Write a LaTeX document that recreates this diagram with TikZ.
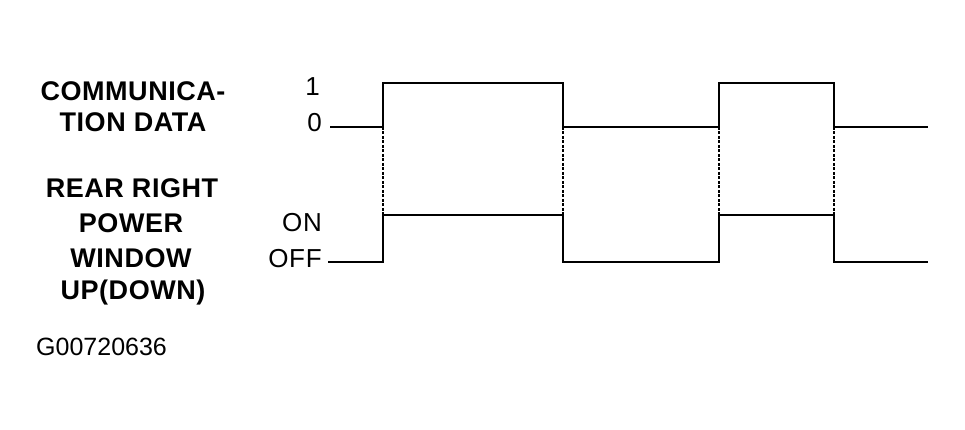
\documentclass[tikz,border=0pt]{standalone}
\usepackage{fontspec}
\setmainfont{Liberation Sans}
\begin{document}
\begin{tikzpicture}
[x=1pt,y=-1pt,
  labeldecorate/.style={font=\bfseries\fontsize{27}{29}\selectfont\addfontfeature{LetterSpace=2},inner sep=0pt,anchor=base},
  leveldecorate/.style={font=\fontsize{26}{28}\selectfont\addfontfeature{LetterSpace=3},inner sep=0pt,anchor=base east},
  linedecorate/.style={-,line width=2.8pt,line join=miter},
  dotdecorate/.style={-,line width=2.4pt,dash pattern=on 3pt off 1.5pt}]
\useasboundingbox (0,0) rectangle (965,430);
%%% signal names
\node (n1) at (133,101) [labeldecorate] {COMMUNICA-};
\node (n2) at (133,132) [labeldecorate] {TION DATA};
\node (n3) at (132,198) [labeldecorate] {REAR RIGHT};
\node (n4) at (131,233) [labeldecorate] {POWER};
\node (n5) at (131,267) [labeldecorate] {WINDOW};
\node (n6) at (133,299) [labeldecorate] {UP(DOWN)};
%%% levels
\node (one) at (320,96) [leveldecorate] {1};
\node (zero) at (322,132) [leveldecorate] {0};
\node (on) at (322,232) [leveldecorate] {ON};
\node (off) at (322,267) [leveldecorate] {OFF};
\node (code) at (36,355) [inner sep=0pt,anchor=base west,font=\fontsize{25}{27}\selectfont] {G00720636};
%%% communication data
% coordinates
\coordinate (a) at (330,127);
\coordinate (b) at (383,127);
\coordinate (c) at (563,83);
\coordinate (d) at (719,127);
\coordinate (e) at (834,83);
\coordinate (f) at (928,127);
% waveform
\draw[linedecorate] (a) -- (b) |- (c) |- (d) |- (e) |- (f);
%%% rear right power window
% coordinates
\coordinate (a2) at (328,262);
\coordinate (b2) at (383,262);
\coordinate (c2) at (563,215);
\coordinate (d2) at (719,262);
\coordinate (e2) at (834,215);
\coordinate (f2) at (928,262);
% waveform
\draw[linedecorate] (a2) -- (b2) |- (c2) |- (d2) |- (e2) |- (f2);
%%% dotted guides
\draw[dotdecorate] (b) -- (383,215);
\draw[dotdecorate] (563,127) -- (563,215);
\draw[dotdecorate] (719,127) -- (719,215);
\draw[dotdecorate] (834,127) -- (834,215);
\end{tikzpicture}
\end{document}
